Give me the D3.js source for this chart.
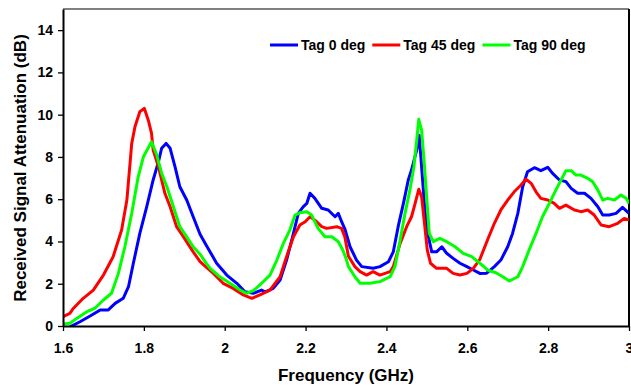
<!DOCTYPE html>
<html>
<head>
<meta charset="utf-8">
<script src="https://cdn.jsdelivr.net/npm/d3@7"></script>
<style>
  body { margin: 0; background: #fff; }
  svg { display: block; font-family: Arial, "Liberation Sans", sans-serif; font-weight: bold; }
</style>
</head>
<body>
<div id="chart"></div>
<script>
// [frequency GHz, attenuation dB]
const tag0 = [[1.600,-0.3],[1.621,0.0],[1.642,0.2],[1.667,0.47],[1.692,0.76],[1.712,0.76],[1.729,1.07],[1.749,1.31],[1.762,1.86],[1.774,2.97],[1.790,4.38],[1.807,5.64],[1.823,6.91],[1.836,7.77],[1.844,8.41],[1.855,8.64],[1.865,8.41],[1.877,7.54],[1.889,6.59],[1.906,5.96],[1.922,5.17],[1.939,4.34],[1.955,3.8],[1.980,2.97],[2.005,2.41],[2.030,2.02],[2.050,1.62],[2.071,1.55],[2.091,1.70],[2.100,1.62],[2.120,1.78],[2.137,2.18],[2.153,3.12],[2.170,4.38],[2.182,5.33],[2.194,5.64],[2.203,5.80],[2.211,6.28],[2.223,6.04],[2.240,5.57],[2.256,5.49],[2.273,5.17],[2.281,5.33],[2.290,4.9],[2.297,4.6],[2.310,3.75],[2.326,3.12],[2.339,2.81],[2.367,2.73],[2.384,2.81],[2.405,3.04],[2.417,3.51],[2.429,4.70],[2.442,5.80],[2.454,6.91],[2.462,7.38],[2.475,8.33],[2.481,9.03],[2.487,7.54],[2.495,5.49],[2.504,4.22],[2.512,3.51],[2.524,3.51],[2.537,3.75],[2.549,3.44],[2.565,3.20],[2.582,2.97],[2.599,2.81],[2.615,2.65],[2.631,2.49],[2.648,2.5],[2.667,2.81],[2.683,3.12],[2.700,3.75],[2.712,4.38],[2.725,5.33],[2.737,6.59],[2.749,7.30],[2.766,7.49],[2.782,7.35],[2.799,7.51],[2.811,7.22],[2.828,6.91],[2.844,6.83],[2.857,6.51],[2.873,6.28],[2.890,6.28],[2.906,6.04],[2.923,5.64],[2.935,5.25],[2.951,5.25],[2.968,5.33],[2.984,5.61],[3.000,5.33]];

const tag45 = [[1.600,0.44],[1.617,0.6],[1.626,0.84],[1.650,1.31],[1.675,1.70],[1.700,2.41],[1.724,3.28],[1.745,4.54],[1.758,5.96],[1.770,8.64],[1.778,9.43],[1.790,10.14],[1.801,10.3],[1.811,9.74],[1.819,9.11],[1.823,8.33],[1.836,7.54],[1.852,6.28],[1.865,5.64],[1.881,4.70],[1.898,4.22],[1.922,3.51],[1.939,3.05],[1.959,2.7],[1.972,2.49],[1.996,2.02],[2.021,1.78],[2.046,1.47],[2.067,1.31],[2.087,1.47],[2.112,1.70],[2.137,2.33],[2.153,3.28],[2.170,4.22],[2.186,4.78],[2.199,4.93],[2.211,5.17],[2.223,5.01],[2.240,4.70],[2.252,4.62],[2.277,4.70],[2.289,4.62],[2.297,4.22],[2.306,3.3],[2.322,2.81],[2.335,2.57],[2.351,2.41],[2.367,2.57],[2.384,2.41],[2.409,2.57],[2.417,2.81],[2.434,3.91],[2.450,4.70],[2.462,5.17],[2.471,5.80],[2.480,6.47],[2.487,6.12],[2.495,4.70],[2.501,3.6],[2.509,2.97],[2.524,2.73],[2.549,2.73],[2.565,2.49],[2.582,2.41],[2.599,2.49],[2.615,2.73],[2.631,3.15],[2.650,4.07],[2.667,4.86],[2.683,5.49],[2.700,5.96],[2.716,6.35],[2.733,6.67],[2.745,6.95],[2.758,6.75],[2.770,6.35],[2.782,6.04],[2.799,5.96],[2.815,5.80],[2.828,5.57],[2.844,5.72],[2.865,5.49],[2.881,5.41],[2.898,5.49],[2.914,5.25],[2.931,4.78],[2.951,4.70],[2.972,4.86],[2.988,5.09],[3.000,5.01]];

const tag90 = [[1.600,0.1],[1.617,0.13],[1.634,0.36],[1.659,0.68],[1.679,0.84],[1.700,1.23],[1.720,1.55],[1.737,2.49],[1.753,3.75],[1.770,5.33],[1.786,7.06],[1.799,8.01],[1.808,8.33],[1.819,8.72],[1.832,8.09],[1.844,7.22],[1.857,6.59],[1.873,5.64],[1.889,4.70],[1.906,4.22],[1.922,3.75],[1.939,3.4],[1.955,2.95],[1.964,2.73],[1.988,2.33],[2.013,2.02],[2.038,1.70],[2.054,1.55],[2.071,1.67],[2.091,2.02],[2.112,2.41],[2.129,3.12],[2.145,3.91],[2.161,4.54],[2.174,5.25],[2.186,5.36],[2.203,5.41],[2.215,5.25],[2.231,4.62],[2.248,4.22],[2.265,4.22],[2.281,3.99],[2.292,3.6],[2.300,3.2],[2.306,2.81],[2.322,2.33],[2.335,2.02],[2.359,2.02],[2.384,2.10],[2.409,2.33],[2.421,2.81],[2.434,4.07],[2.446,5.33],[2.458,6.43],[2.468,7.54],[2.475,8.80],[2.480,9.78],[2.487,9.27],[2.493,7.85],[2.500,5.96],[2.506,4.38],[2.516,3.99],[2.532,4.15],[2.549,3.99],[2.570,3.75],[2.590,3.44],[2.611,3.28],[2.631,2.97],[2.650,2.65],[2.671,2.52],[2.688,2.33],[2.704,2.13],[2.725,2.33],[2.737,2.81],[2.753,3.60],[2.770,4.38],[2.786,5.17],[2.803,5.80],[2.819,6.43],[2.832,6.91],[2.844,7.35],[2.857,7.35],[2.869,7.14],[2.881,7.14],[2.898,6.99],[2.910,6.83],[2.923,6.43],[2.935,5.96],[2.947,6.04],[2.964,5.96],[2.980,6.20],[2.993,6.04],[3.000,5.80]];

const seriesNames = ['Tag 0 deg', 'Tag 45 deg', 'Tag 90 deg'];
const seriesColors = ['#0000ff', '#ff0000', '#00ff00'];
const xTicks = [1.6, 1.8, 2.0, 2.2, 2.4, 2.6, 2.8, 3.0];
const yTicks = [0, 2, 4, 6, 8, 10, 12, 14];

const width = 631, height = 388;
const margin = {top: 9, right: 2, bottom: 62, left: 63};
const w = width - margin.left - margin.right;
const h = height - margin.top - margin.bottom;

const svg = d3.select('#chart').append('svg')
  .attr('width', width)
  .attr('height', height);

const g = svg.append('g')
  .attr('transform', 'translate(' + margin.left + ',' + margin.top + ')');

let x = d3.scaleLinear().domain([1.6, 3.0]).range([0, w]);
let y = d3.scaleLinear().domain([0, 15]).range([h, 0]);

g.append('clipPath').attr('id', 'plot-clip')
  .append('rect').attr('width', w).attr('height', h);

// frame: grey top, black right
g.append('line')
  .attr('x1', 0).attr('x2', w).attr('y1', 0).attr('y2', 0)
  .attr('stroke', '#808080').attr('stroke-width', 2);
g.append('line')
  .attr('x1', w).attr('x2', w).attr('y1', 0).attr('y2', h)
  .attr('stroke', '#000').attr('stroke-width', 2);

let line = d3.line()
  .x(d => x(d[0]))
  .y(d => y(d[1]));

const series = [tag0, tag45, tag90];
g.append('g').attr('clip-path', 'url(#plot-clip)')
  .selectAll('path')
  .data(series)
  .enter().append('path')
  .attr('d', line)
  .attr('fill', 'none')
  .attr('stroke', (d, i) => seriesColors[i])
  .attr('stroke-width', 3)
  .attr('stroke-linejoin', 'round');

let xAxis = g.append('g')
  .attr('transform', 'translate(0,' + h + ')')
  .call(d3.axisBottom(x).tickValues(xTicks).tickFormat(d3.format('~g')).tickSizeInner(5).tickSizeOuter(0).tickPadding(12));

let yAxis = g.append('g')
  .call(d3.axisLeft(y).tickValues(yTicks).tickSizeInner(5).tickSizeOuter(0).tickPadding(5));

[xAxis, yAxis].forEach(ax => {
  ax.select('.domain').attr('stroke', '#000').attr('stroke-width', 2);
  ax.selectAll('.tick line').attr('stroke', '#000').attr('stroke-width', 1.3);
  ax.selectAll('.tick text')
    .attr('fill', '#000')
    .style('font-size', '14px')
    .style('font-weight', 'bold')
    .style('font-family', 'Arial, "Liberation Sans", sans-serif');
});

svg.append('text')
  .attr('x', margin.left + x(2.3))
  .attr('y', 381)
  .attr('text-anchor', 'middle')
  .style('font-size', '17px')
  .text('Frequency (GHz)');

svg.append('text')
  .attr('transform', 'translate(26,168)rotate(-90)')
  .attr('text-anchor', 'middle')
  .style('font-size', '17px')
  .text('Received Signal Attenuation (dB)');

// legend, laid out left to right
let legend = svg.append('g').attr('transform', 'translate(270,45)');
let lx = 0;
seriesNames.forEach((name, i) => {
  legend.append('line')
    .attr('x1', lx).attr('x2', lx + 28)
    .attr('stroke', seriesColors[i]).attr('stroke-width', 3);
  let t = legend.append('text')
    .attr('x', lx + 31)
    .attr('dy', '0.36em')
    .style('font-size', '14px')
    .text(name);
  lx += 31 + t.node().getComputedTextLength() + 7;
});
</script>
</body>
</html>
